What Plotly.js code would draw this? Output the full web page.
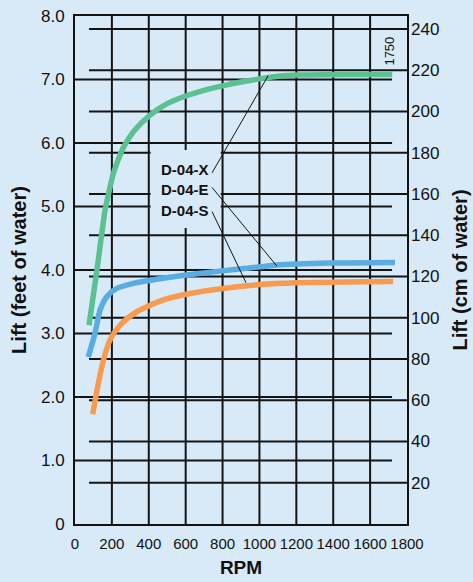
<!DOCTYPE html>
<html>
<head>
<meta charset="utf-8">
<script src="https://cdn.plot.ly/plotly-3.0.1.min.js"></script>
<style>
  html, body { margin: 0; padding: 0; background: #d8eaf8; }
  #chart { width: 473px; height: 582px; }
</style>
</head>
<body>
<div id="chart"></div>
<script>
// ---- data ----
const rpmX = [76, 119, 163, 184, 206, 233, 266, 320, 407, 500, 600, 700, 800, 900, 1000, 1100, 1200, 1450, 1720];
const liftX = [3.13, 4.00, 4.94, 5.23, 5.50, 5.73, 5.95, 6.19, 6.44, 6.62, 6.74, 6.83, 6.90, 6.96, 7.01, 7.05, 7.07, 7.08, 7.08];

const rpmE = [72, 108, 136, 172, 226, 316, 479, 660, 840, 1003, 1095, 1383, 1735];
const liftE = [2.63, 3.00, 3.37, 3.58, 3.71, 3.79, 3.87, 3.94, 4.00, 4.05, 4.08, 4.11, 4.12];

const rpmS = [96, 127, 154, 190, 244, 334, 479, 624, 804, 1003, 1200, 1450, 1725];
const liftS = [1.73, 2.22, 2.58, 2.90, 3.13, 3.34, 3.53, 3.63, 3.71, 3.77, 3.80, 3.81, 3.82];

const seriesNames = ['D-04-X', 'D-04-E', 'D-04-S'];
const rpmTicks = [0, 200, 400, 600, 800, 1000, 1200, 1400, 1600, 1800];
const feetTicks = [0, 1, 2, 3, 4, 5, 6, 7, 8];
const feetTickText = ['0', '1.0', '2.0', '3.0', '4.0', '5.0', '6.0', '7.0', '8.0'];
const cmTicks = [20, 40, 60, 80, 100, 120, 140, 160, 180, 200, 220, 240];
const speedNote = '1750';

// ---- styling ----
const BG = '#d8eaf8';
const INK = '#141414';
const colors = ['#5bc192', '#5aade2', '#f89a4f'];
const sans = '"Liberation Sans", Arial, sans-serif';

const traces = [
  {x: rpmX, y: liftX, name: seriesNames[0]},
  {x: rpmE, y: liftE, name: seriesNames[1]},
  {x: rpmS, y: liftS, name: seriesNames[2]}
].map((t, i) => Object.assign(t, {
  type: 'scatter', mode: 'lines',
  line: {color: colors[i], width: 5.5, shape: 'spline', smoothing: 0.7},
  hoverinfo: 'skip'
}));
// keep the secondary (cm) axis alive
traces.push({x: [], y: [], yaxis: 'y2', type: 'scatter', mode: 'lines', showlegend: false, hoverinfo: 'skip'});

const shapes = [];
// feet grid lines (short at right)
feetTicks.slice(1, -1).forEach(v => shapes.push({
  type: 'line', xref: 'x', yref: 'y', x0: 0, x1: 1719, y0: v, y1: v,
  line: {color: INK, width: 2}, layer: 'below'
}));
// cm grid lines (short at left)
cmTicks.forEach(v => shapes.push({
  type: 'line', xref: 'x', yref: 'y2', x0: 76, x1: 1800, y0: v, y1: v,
  line: {color: INK, width: 2}, layer: 'below'
}));
// vertical rpm lines
rpmTicks.slice(1, -1).forEach(v => shapes.push({
  type: 'line', xref: 'x', yref: 'y', x0: v, x1: v, y0: 0, y1: 8,
  line: {color: INK, width: 2}, layer: 'below'
}));
// background patch behind the labels
shapes.push({
  type: 'rect', xref: 'x', yref: 'y', x0: 410, x1: 790, y0: 4.66, y1: 5.89,
  fillcolor: BG, line: {width: 0}, layer: 'below'
});
// leader lines
const leaders = [
  [743, 5.53, 1047, 7.06],
  [743, 5.30, 1095, 4.06],
  [743, 4.92, 927, 3.80]
];
leaders.forEach(l => shapes.push({
  type: 'line', xref: 'x', yref: 'y', x0: l[0], y0: l[1], x1: l[2], y1: l[3],
  line: {color: INK, width: 1}, layer: 'above'
}));

const labelY = [5.58, 5.27, 4.94];
const annotations = seriesNames.map((n, i) => ({
  x: 599, y: labelY[i], xref: 'x', yref: 'y', text: n, showarrow: false,
  font: {family: sans, size: 15, color: '#111', weight: 'bold'}
}));
annotations.push({
  x: 1708, y: 7.44, xref: 'x', yref: 'y', text: speedNote, showarrow: false,
  textangle: -90, font: {family: sans, size: 13, color: '#111'}
});

const layout = {
  width: 473, height: 582,
  paper_bgcolor: BG, plot_bgcolor: BG,
  margin: {l: 75, r: 66, t: 16, b: 58},
  showlegend: false,
  xaxis: {
    range: [0, 1800], tickvals: rpmTicks, ticktext: rpmTicks.map(String),
    showgrid: false, zeroline: false, showline: true, mirror: true,
    linecolor: INK, linewidth: 2, ticks: '', ticklabelstandoff: 5, tickangle: 0,
    tickfont: {family: sans, size: 15, color: '#111'},
    title: {text: 'RPM', standoff: 10, font: {family: sans, size: 19, color: '#111', weight: 'bold'}}
  },
  yaxis: {
    range: [0, 8], tickvals: feetTicks, ticktext: feetTickText,
    showgrid: false, zeroline: false, showline: true, mirror: true,
    linecolor: INK, linewidth: 2, ticks: '', ticklabelstandoff: 5,
    tickfont: {family: sans, size: 17, color: '#111'},
    title: {text: 'Lift (feet of water)', standoff: 9, font: {family: sans, size: 20, color: '#111', weight: 'bold'}}
  },
  yaxis2: {
    range: [0, 246.3], overlaying: 'y', side: 'right', anchor: 'x',
    tickvals: cmTicks, ticktext: cmTicks.map(String),
    showgrid: false, zeroline: false, showline: false, ticks: '', ticklabelstandoff: 3,
    tickfont: {family: sans, size: 17, color: '#111'},
    title: {text: 'Lift (cm of water)', standoff: 14, font: {family: sans, size: 20, color: '#111', weight: 'bold'}}
  },
  shapes: shapes,
  annotations: annotations
};

Plotly.newPlot('chart', traces, layout, {staticPlot: true, displayModeBar: false});
</script>
</body>
</html>
